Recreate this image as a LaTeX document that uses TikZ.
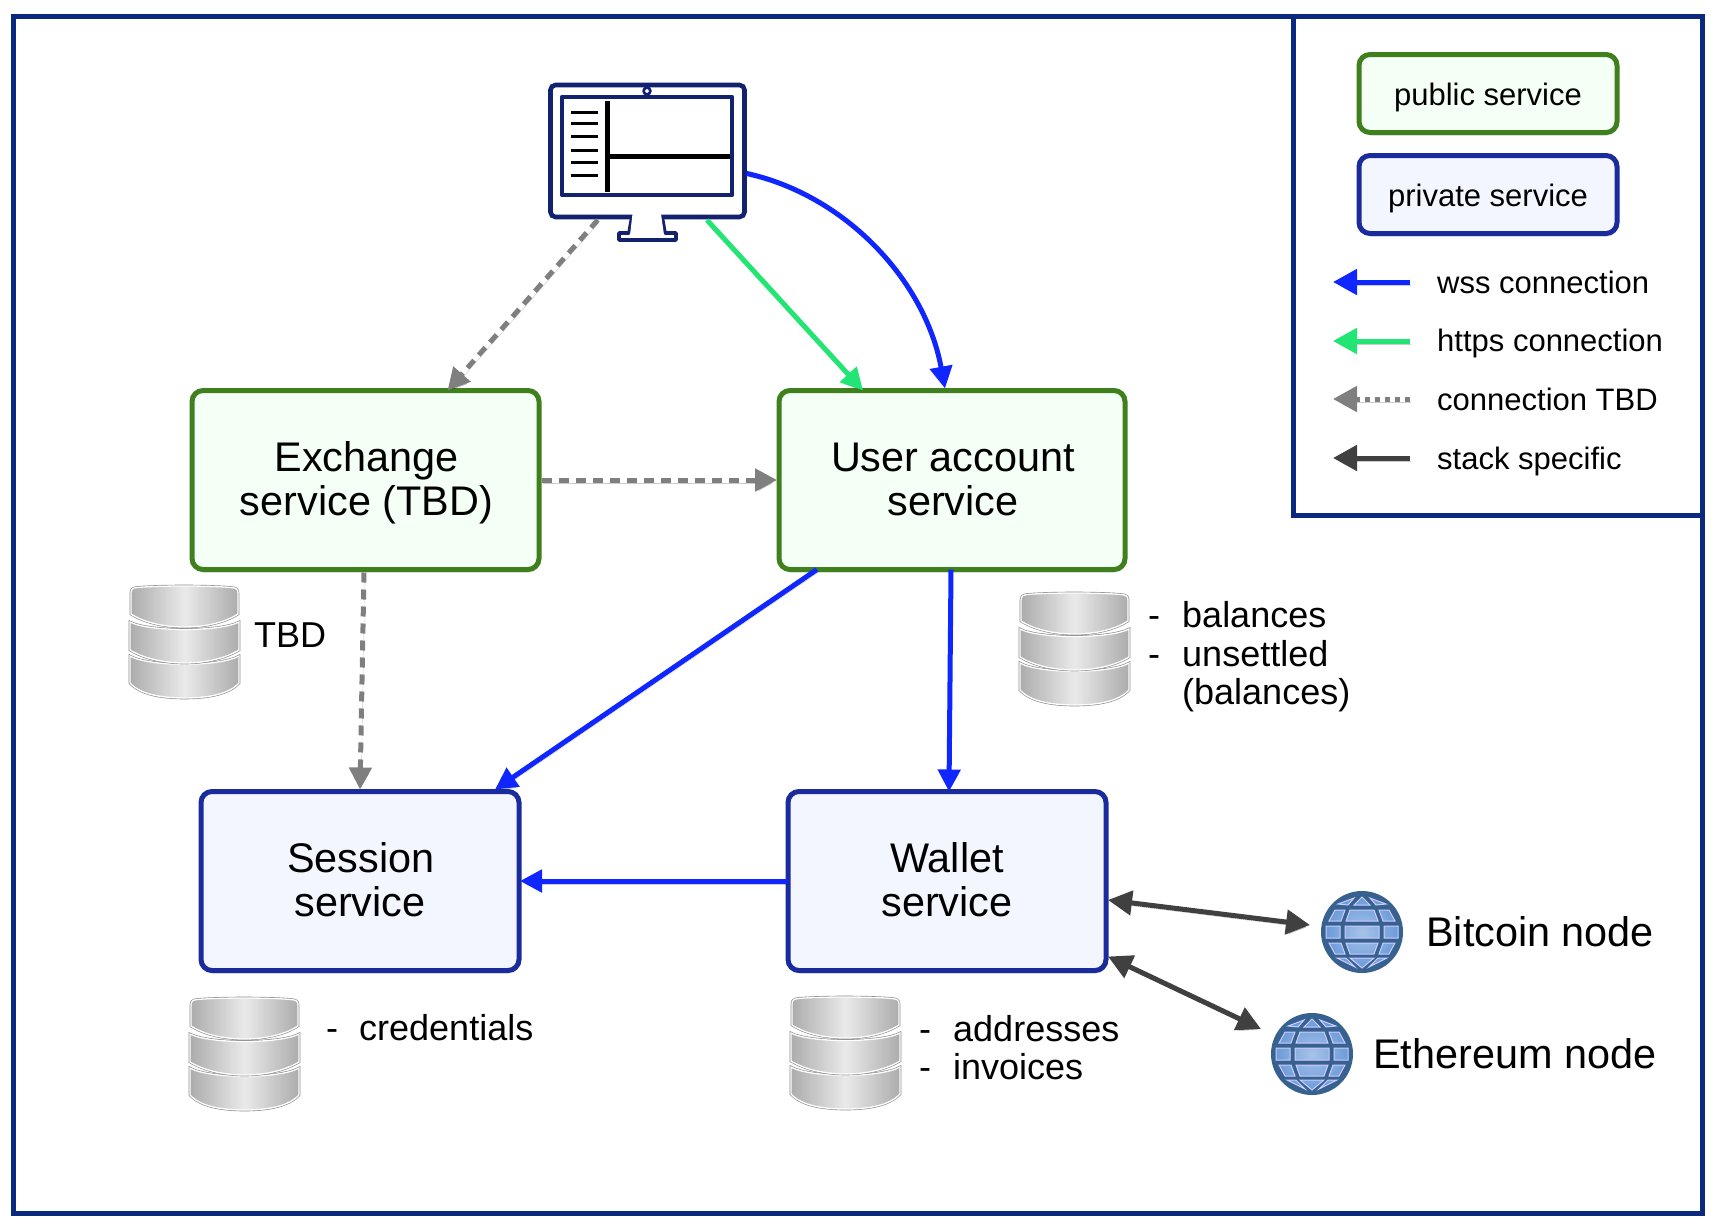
\documentclass[tikz,border=0pt]{standalone}
\usepackage{fontspec}
\setmainfont{Liberation Sans}
\usetikzlibrary{arrows.meta,shadows,calc}
\definecolor{framec}{HTML}{0A2A80}
\definecolor{navy}{HTML}{12226E}
\definecolor{pubd}{HTML}{3F7F1D}
\definecolor{pubf}{HTML}{F4FFF5}
\definecolor{prid}{HTML}{1A2B9B}
\definecolor{prif}{HTML}{F4F6FF}
\definecolor{wssc}{HTML}{0F26FF}
\definecolor{httpc}{HTML}{22E573}
\definecolor{tbdc}{HTML}{7F7F7F}
\definecolor{stackc}{HTML}{404040}
\definecolor{dbside}{HTML}{ACACAC}
\definecolor{dbmid}{HTML}{EAEAEA}
\definecolor{globec}{HTML}{6C9BD9}
\definecolor{globed}{HTML}{37618F}
\def\layerC{(1,71) .. controls (20,82) and (91,82) .. (110,71) -- (110,98)
       .. controls (100,109) and (80,113) .. (55.5,113) .. controls (31,113) and (11,109) .. (1,98) -- cycle}
\def\layerB{(1,37) .. controls (20,47) and (91,47) .. (110,37) -- (110,65)
       .. controls (95,74) and (75,78) .. (55.5,78) .. controls (36,78) and (16,74) .. (1,65) -- cycle}
\def\layerA{(2,8) .. controls (2,4) and (4,3) .. (8,2.5) .. controls (30,0.5) and (80,0.5) .. (102,2.5)
       .. controls (107,3) and (109,4) .. (109,8) -- (109,29)
       .. controls (95,38) and (75,42) .. (55.5,42) .. controls (36,42) and (16,38) .. (2,29) -- cycle}
\tikzset{
  svc/.style={rounded corners=11pt,line width=5pt,align=center,inner sep=0pt,outer sep=0pt,
    drop shadow={shadow xshift=1pt,shadow yshift=-3pt,opacity=.2},
    font=\fontsize{41.4}{44}\selectfont,text depth=2.3pt},
  pub/.style={svc,draw=pubd,fill=pubf},
  pri/.style={svc,draw=prid,fill=prif},
  lgbox/.style={font=\fontsize{31}{36}\selectfont,minimum width=258pt,minimum height=78pt,text depth=0pt,text height=23pt},
  shad/.style={preaction={draw=black,opacity=.2,transform canvas={xshift=1pt,yshift=-3pt}}},
  conn/.style={shad,line width=5pt,-{Triangle[length=22pt,width=22pt]}},
  wss/.style={conn,draw=wssc},
  https/.style={conn,draw=httpc},
  tbd/.style={conn,draw=tbdc,dash pattern=on 10pt off 7pt},
  stack/.style={shad,draw=stackc,line width=5pt,{Triangle[length=24pt,width=24pt]}-{Triangle[length=24pt,width=24pt]}},
  lgarrow/.style={shad,line width=5pt,-{Triangle[length=24pt,width=25pt]}},
  lgtext/.style={anchor=base west,inner sep=0pt,font=\fontsize{31}{36}\selectfont},
  dbtext/.style={anchor=base west,inner sep=0pt,font=\fontsize{36}{38}\selectfont},
  nodetext/.style={anchor=base west,inner sep=0pt,font=\fontsize{41.4}{44}\selectfont},
  dbshade/.style={shading=axis,left color=dbside,right color=dbside,middle color=dbmid},
  dbouter/.style={draw=black!45,line width=2.6pt},
  dbinner/.style={draw=white,line width=1.3pt},
  db/.pic={
    \draw[dbouter] \layerC; \shade[dbshade] \layerC; \draw[dbinner] \layerC;
    \draw[dbouter] \layerB; \shade[dbshade] \layerB; \draw[dbinner] \layerB;
    \draw[dbouter] \layerA; \shade[dbshade] \layerA; \draw[dbinner] \layerA;
  },
  globe/.style={circle,fill=globed,minimum size=82pt,inner sep=0pt,outer sep=0pt},
  cells/.pic={
    \path[draw=white!80!blue,line width=1pt,shading=radial,inner color=white!40!globec,outer color=globec]
      (-36,-6) -- (-22,-6) -- (-22,6) -- (-36,6) -- cycle
      (-17,-6) -- (17,-6) -- (17,6) -- (-17,6) -- cycle
      (22,-6) -- (36,-6) -- (36,6) -- (22,6) -- cycle
      (-12,-22) -- (12,-22) -- (16,-11) -- (-16,-11) -- cycle
      (-27,-22) -- (-17,-22) -- (-21,-11) -- (-33,-11) -- cycle
      (27,-22) -- (17,-22) -- (21,-11) -- (33,-11) -- cycle
      (-16,11) -- (16,11) -- (12,22) -- (-12,22) -- cycle
      (-33,11) -- (-21,11) -- (-17,22) -- (-27,22) -- cycle
      (33,11) -- (21,11) -- (17,22) -- (27,22) -- cycle
      (0,-35) -- (8,-27) -- (-8,-27) -- cycle
      (8,-34) -- (24,-28) -- (14,-27) -- cycle
      (-8,-34) -- (-24,-28) -- (-14,-27) -- cycle
      (-12,26) -- (12,26) -- (0,36) -- cycle
      (-25,26) -- (-16,26) -- (-7,35) -- cycle
      (25,26) -- (16,26) -- (7,35) -- cycle;
  }
}
\begin{document}
\begin{tikzpicture}[x=1pt,y=-1pt]
\useasboundingbox (0,0) rectangle (1720,1226);
% frames
\draw[framec,line width=5pt] (13,16) rectangle (1702,1213);
\draw[framec,line width=5pt] (1293,16) rectangle (1702,515);
% services
\node[pub,minimum width=347pt,minimum height=179pt] (exchange) at (365.5,480) {\hspace*{2pt}Exchange\\\hspace*{2pt}service (TBD)};
\node[pub,minimum width=346pt,minimum height=179pt] (user) at (952,480) {\hspace*{2pt}User account\\\hspace*{2pt}service};
\node[pri,minimum width=318pt,minimum height=179pt] (session) at (360,881) {\hspace*{2pt}Session\\service};
\node[pri,minimum width=318pt,minimum height=179pt] (wallet) at (947,881) {Wallet\\service};
% monitor
\node[draw=navy,fill=white,line width=4.6pt,rounded corners=5pt,minimum width=194pt,minimum height=132pt,inner sep=0pt,outer sep=0pt] (monitor) at (647.5,151) {};
\draw[navy,line width=4.6pt,fill=white,line join=round] (562,97) rectangle (732,195);
\fill[white] (634,210) rectangle (660,224);
\draw[navy,line width=3.6pt,fill=white,line join=round] (632,216) -- (629,233) -- (619,233) -- (619,240) -- (676,240) -- (676,233) -- (665,233) -- (662,216);
\fill[white] (632.5,214) -- (630,235) -- (664,235) -- (661,214) -- cycle;
\draw[navy,line width=2.6pt,fill=white] (647,91) circle (3.4pt);
\draw[black,line width=5pt] (607,101) -- (607,192);
\draw[black,line width=5pt] (607,156) -- (730,156);
\foreach \yy in {112,123,136,150,162,175}{\draw[black,line width=3pt] (571,\yy) -- (598,\yy);}
% databases
\pic at (129,585) {db};
\pic at (1019,592) {db};
\pic at (189,997) {db};
\pic at (790,996) {db};
% db labels
\node[dbtext] (ltbd) at (254,647) {TBD};
\node[dbtext] (bal1) at (1148,627.5) {-};
\node[dbtext] (bal2) at (1182,627.5) {balances};
\node[dbtext] (uns1) at (1148,666) {-};
\node[dbtext] (uns2) at (1182,666) {unsettled};
\node[dbtext] (uns3) at (1182,704.5) {(balances)};
\node[dbtext] (cre1) at (326,1040) {-};
\node[dbtext] (cre2) at (359,1040) {credentials};
\node[dbtext] (add1) at (919,1041) {-};
\node[dbtext] (add2) at (953,1041) {addresses};
\node[dbtext] (inv1) at (919,1079) {-};
\node[dbtext] (inv2) at (953,1079) {invoices};
% globes
\node[globe] (bitcoin) at (1362,932) {};
\pic at (1362,932) {cells};
\node[globe] (ethereum) at (1312,1054) {};
\pic at (1312,1054) {cells};
\node[nodetext] (lbtc) at (1426,946) {Bitcoin node};
\node[nodetext] (leth) at (1373,1068) {Ethereum node};
% connectors
\draw[tbd] ([yshift=-3pt]monitor.-127.5) -- ([xshift=82pt]exchange.north);
\draw[https] ([yshift=-3pt]monitor.-48.8) -- ([xshift=-89pt]user.north);
\draw[wss] ([xshift=2pt]monitor.-13.5) .. controls (845,195) and (925,280) .. ([xshift=-7pt,yshift=2pt]user.north);
\draw[tbd] ([xshift=3pt]exchange.east) -- ([xshift=-2pt]user.west);
\draw[tbd] ([xshift=-1.5pt,yshift=-3pt]exchange.south) -- ([yshift=2pt]session.north);
\draw[wss] ([xshift=-135pt]user.south) -- ([xshift=135pt,yshift=2pt]session.north);
\draw[wss] ([xshift=-1pt]user.south) -- ([xshift=2pt]wallet.north);
\draw[wss] (wallet.west) -- ([xshift=1pt]session.east);
\draw[stack] ([xshift=2pt,yshift=-19pt]wallet.east) -- ([xshift=-11pt,yshift=7pt]bitcoin.west);
\draw[stack] ([xshift=2pt,yshift=14pt]wallet.south east) -- ([xshift=-22pt,yshift=-4pt]ethereum.135);
% legend
\node[pub,lgbox] (lgpub) at (1488,93.5) {public service};
\node[pri,lgbox] (lgpri) at (1488,194.5) {private service};
\foreach \nm/\yy/\st in {a/282/wssc,b/341/httpc,d/458/stackc}{
  \coordinate (\nm0) at (1410,\yy);
  \coordinate (\nm1) at (1333,\yy);
  \draw[lgarrow,draw=\st] (\nm0) -- (\nm1);
}
\coordinate (c0) at (1410,399);
\coordinate (c1) at (1333,399);
\draw[lgarrow,draw=tbdc,dash pattern=on 5pt off 5pt] (c0) -- (c1);
\node[lgtext] (lga) at (1437,293) {wss connection};
\node[lgtext] (lgb) at (1437,351) {https connection};
\node[lgtext] (lgc) at (1437,410) {connection TBD};
\node[lgtext] (lgd) at (1437,469) {stack specific};
\end{tikzpicture}
\end{document}
